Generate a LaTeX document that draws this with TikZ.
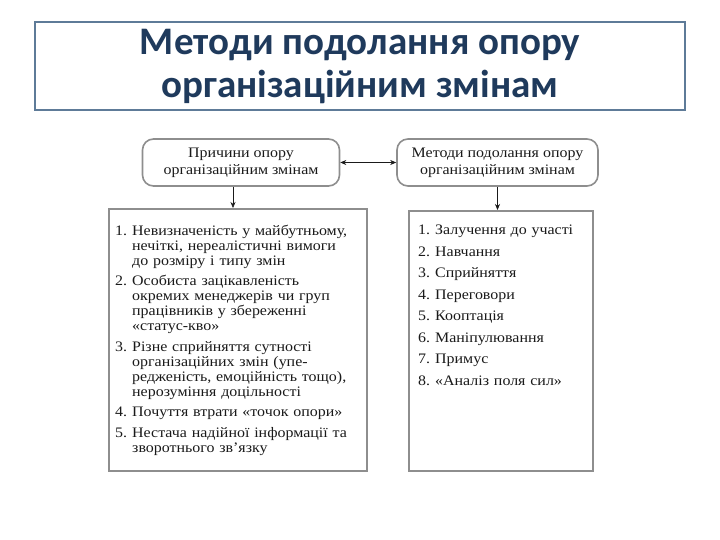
\documentclass[tikz,border=0pt]{standalone}
\usepackage{fontspec}
\setmainfont[FakeStretch=1.1]{Liberation Serif}
\newfontfamily\titlefont{Carlito}
\usetikzlibrary{arrows.meta,positioning}
\definecolor{titleink}{HTML}{1F3A5C}
\definecolor{frameblue}{HTML}{5E7B98}
\definecolor{boxgray}{HTML}{8E8E8E}
\definecolor{ink}{HTML}{1A1A1A}
\newcommand{\listitem}[2]{\hangindent=17pt\hangafter=1\noindent\makebox[17pt][l]{#1}#2\par}
\tikzset{
  titlebox/.style={draw=frameblue,line width=1.6pt,
                   minimum width=650,minimum height=88,
                   align=center,text=titleink,inner sep=0pt,
                   font=\titlefont\bfseries\fontsize{39}{43}\selectfont},
  headbox/.style={draw=boxgray,line width=1.6pt,rounded corners=11pt,
                  minimum height=47,align=center,inner sep=2pt,text=ink,
                  font=\fontsize{14.5}{17}\selectfont},
  listframe/.style={draw=boxgray,line width=1.6pt,anchor=north west,inner sep=0pt},
  listtext/.style={anchor=north west,inner sep=0pt,align=left,text=ink,
                   font=\fontsize{14.5}{15}\selectfont},
  flowarr/.style={-{Stealth[length=6pt,width=5pt]},line width=0.6pt,color=ink},
  dblarr/.style={{Stealth[length=6pt,width=5pt]}-{Stealth[length=6pt,width=5pt]},line width=0.6pt,color=ink}
}

\begin{document}
\begin{tikzpicture}[x=1pt,y=-1pt]
  \useasboundingbox[fill=white] (0,0) rectangle (720,540);

  % title
  \node[titlebox] (title) at (360,66) {Методи подолання опору\\організаційним змінам};

  % heads
  \node[headbox,minimum width=197] (causes) at (241,162.5) {Причини опору\\організаційним змінам};
  \node[headbox,minimum width=201] (methods) at (497.5,162.5) {Методи подолання опору\\організаційним змінам};
  \draw[dblarr] (causes) -- (methods);

  % frames
  \node[listframe,minimum width=258,minimum height=262] (causeframe) at (108,208) {};
  \node[listframe,minimum width=184,minimum height=260] (methodframe) at (408,210) {};
  \draw[flowarr] ([xshift=-8]causes.south) -- ([xshift=-8]causes.south |- causeframe.north);
  \draw[flowarr] (methods.south) -- (methods.south |- methodframe.north);

  % lists
  \node[listtext,text width=250] (causelist) at (115,224.5) {%
    \setlength{\parskip}{5.5pt}%
    \listitem{1.}{Невизначеність у майбутньому,\newline нечіткі, нереалістичні вимоги\newline до розміру і типу змін}
    \listitem{2.}{Особиста зацікавленість\newline окремих менеджерів чи груп\newline працівників у збереженні\newline «статус-кво»}
    \listitem{3.}{Різне сприйняття сутності\newline організаційних змін (упе-\newline редженість, емоційність тощо),\newline нерозуміння доцільності}
    \listitem{4.}{Почуття втрати «точок опори»}
    \listitem{5.}{Нестача надійної інформації та\newline зворотнього зв’язку}};
  \node[listtext,text width=178,font=\fontsize{14.5}{21.5}\selectfont] (methodlist) at (418,225) {%
    \listitem{1.}{Залучення до участі}
    \listitem{2.}{Навчання}
    \listitem{3.}{Сприйняття}
    \listitem{4.}{Переговори}
    \listitem{5.}{Кооптація}
    \listitem{6.}{Маніпулювання}
    \listitem{7.}{Примус}
    \listitem{8.}{«Аналіз поля сил»}};
\end{tikzpicture}
\end{document}
